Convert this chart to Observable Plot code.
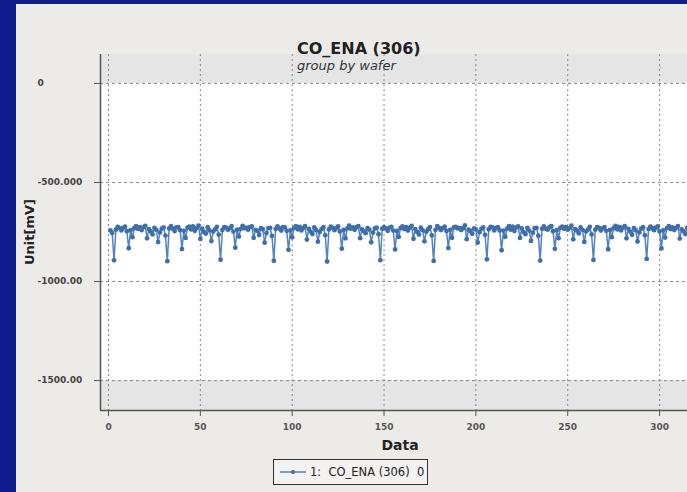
<!DOCTYPE html>
<html><head><meta charset="utf-8">
<script src="https://cdn.jsdelivr.net/npm/d3@7"></script>
<script src="https://cdn.jsdelivr.net/npm/@observablehq/plot@0.6"></script>
<style>
html,body{margin:0;padding:0;width:687px;height:492px;overflow:hidden;background:#111d8c;font-family:"DejaVu Sans",sans-serif;}
#panel{position:absolute;left:16px;top:4px;width:671px;height:488px;background:#edebe8;}
#chart{position:absolute;left:0;top:0;}
#title{position:absolute;left:297px;top:39px;font-size:16px;font-weight:bold;color:#222;white-space:nowrap;}
#subtitle{position:absolute;left:297px;top:58px;font-size:13px;font-style:italic;color:#333;white-space:nowrap;}
#ylabel{position:absolute;left:29px;top:232px;transform:translate(-50%,-50%) rotate(-90deg);font-size:13px;font-weight:bold;color:#222;white-space:nowrap;}
#xlabel{position:absolute;left:400px;top:437px;transform:translateX(-50%);font-size:14px;font-weight:bold;color:#222;white-space:nowrap;}
#legend{position:absolute;left:273px;top:459px;width:153px;height:24px;border:1px solid #333;background:#f3f2f0;display:flex;align-items:center;font-size:11.5px;color:#222;white-space:nowrap;}
#legend svg{margin-left:6px;margin-right:4px;}
</style></head>
<body>
<div id="panel"></div>
<div id="chart"></div>
<div id="title">CO_ENA (306)</div>
<div id="subtitle">group by wafer</div>
<div id="ylabel">Unit[mV]</div>
<div id="xlabel">Data</div>
<div id="legend"><svg width="26" height="10"><line x1="0" y1="5" x2="26" y2="5" stroke="#5283c0" stroke-width="1.5"/><circle cx="13" cy="5" r="2" fill="#3c6ca8"/></svg><span>1:&nbsp; CO_ENA (306)&nbsp; 0</span></div>
<script>
const seriesName = "1:  CO_ENA (306)  0";
const xTicks = [0, 50, 100, 150, 200, 250, 300];
const yTicks = [0, -500, -1000, -1500];
const yTickLabels = ["0", "-500.000", "-1000.00", "-1500.00"];
const xDomain = [-4.36, 315.2];
const yDomain = [-1651, 146];
const specLimits = [0, -1500];

const unitMv = [
 -742, -755,
 -893, -738, -724, -730, -742, -729, -723, -746, -832, -741, -776, -731, -720, -734, -726, -741, -727, -719, -782, -736, -747, -762, -729, -739, -801, -752, -733, -727, -768,
 -897, -732, -721, -733, -745, -727, -725, -741, -836, -744, -780, -728, -723, -737, -722, -744, -730, -718, -785, -733, -750, -758, -726, -742, -796, -748, -737, -724, -763,
 -890, -740, -726, -728, -739, -732, -721, -748, -829, -738, -773, -734, -719, -731, -728, -738, -725, -722, -779, -739, -744, -765, -731, -736, -804, -755, -730, -729, -770,
 -895, -735, -722, -731, -743, -726, -727, -744, -840, -742, -777, -729, -721, -736, -724, -742, -729, -720, -788, -734, -748, -760, -727, -740, -799, -750, -735, -726, -766,
 -899, -737, -723, -729, -741, -730, -722, -747, -834, -740, -782, -732, -718, -733, -727, -739, -726, -721, -781, -737, -746, -756, -730, -738, -802, -753, -732, -728, -761,
 -892, -733, -725, -732, -744, -728, -724, -743, -838, -745, -775, -730, -722, -735, -725, -743, -728, -719, -784, -735, -749, -763, -728, -741, -797, -749, -736, -725, -767,
 -896, -739, -720, -730, -740, -731, -723, -745, -831, -739, -779, -727, -724, -732, -729, -740, -731, -717, -786, -738, -745, -759, -732, -737, -803, -751, -734, -727, -764,
 -888, -736, -724, -727, -742, -729, -726, -742, -842, -743, -774, -733, -720, -738, -723, -745, -727, -722, -780, -732, -751, -761, -729, -743, -795, -754, -731, -729, -769,
 -894, -734, -722, -733, -738, -727, -721, -746, -835, -741, -781, -729, -723, -734, -726, -738, -730, -718, -787, -736, -743, -757, -727, -739, -800, -747, -738, -724, -762,
 -891, -738, -726, -729, -743, -732, -725, -744, -837, -740, -776, -731, -719, -737, -724, -742, -728, -721, -782, -734, -748, -764, -730, -741, -798, -752, -733, -726, -766,
 -886, -735, -723, -731, -741, -728, -722, -747, -833, -742, -778, -730, -721, -735, -727, -740, -729, -720, -783, -737, -746, -760, -728, -738, -799
];

const data = unitMv.map((v, i) => ({x: i + 1, y: v}));
const bands = [
  {y1: specLimits[0], y2: yDomain[1]},
  {y1: yDomain[0], y2: specLimits[1]}
];
const labelOf = new Map(yTicks.map((t, i) => [t, yTickLabels[i]]));

const chart = Plot.plot({
  width: 687,
  height: 440,
  marginTop: 54,
  marginBottom: 30,
  marginLeft: 100,
  marginRight: 0,
  style: {background: "transparent", color: "#444", fontFamily: "DejaVu Sans, sans-serif"},
  x: {domain: xDomain},
  y: {domain: yDomain},
  marks: [
    Plot.frame({fill: "white", stroke: "none"}),
    Plot.rect(bands, {x1: xDomain[0], x2: xDomain[1], y1: "y1", y2: "y2", fill: "#e5e5e5"}),
    Plot.gridX(xTicks, {stroke: "#888", strokeOpacity: 1, strokeDasharray: "2,3"}),
    Plot.gridY(yTicks, {stroke: "#888", strokeOpacity: 1, strokeDasharray: "3,3"}),
    Plot.line(data, {x: "x", y: "y", stroke: "#5283c0", strokeWidth: 1.5, clip: true}),
    Plot.dot(data, {x: "x", y: "y", r: 2.4, fill: "#3f6fab", clip: true}),
    Plot.ruleX([xDomain[0]], {stroke: "#555", strokeWidth: 1.5}),
    Plot.ruleY([yDomain[0]], {stroke: "#555", strokeWidth: 1.5}),
    Plot.axisY(yTicks, {tickFormat: d => labelOf.get(d), tickSize: 6, tickPadding: 57, textAnchor: "start", fontSize: 9, fontWeight: "bold", stroke: "#555", fill: "#444", label: null}),
    Plot.axisX(xTicks, {tickFormat: d => String(d), tickSize: 6, tickPadding: 7, fontSize: 9, fontWeight: "bold", stroke: "#555", fill: "#555", label: null})
  ]
});
document.getElementById("chart").appendChild(chart);
</script>
</body></html>
